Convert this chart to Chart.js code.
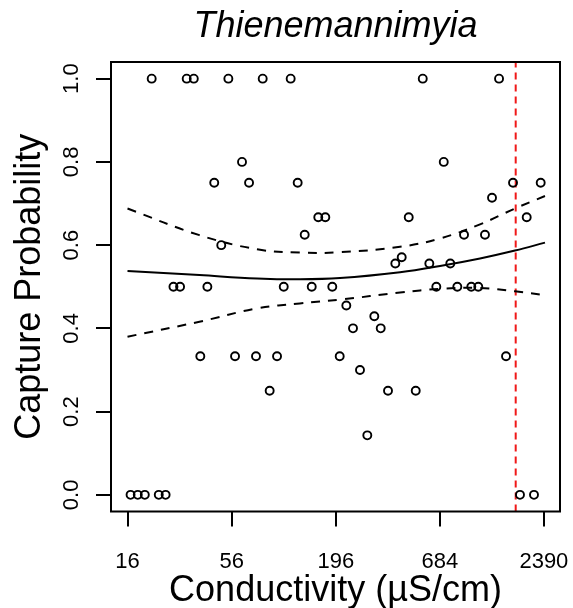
<!DOCTYPE html>
<html>
<head>
<meta charset="utf-8">
<script src="https://cdn.jsdelivr.net/npm/chart.js@4"></script>
<style>
html, body { margin: 0; padding: 0; background: #fff; }
#wrap { width: 573px; height: 608px; }
</style>
</head>
<body>
<div id="wrap"><canvas id="chart" width="573" height="608"></canvas></div>
<script>
// observed capture probabilities (one entry per site)
const conductivity = [
    21.4, 32.6, 35.5, 53.8, 81.3, 113.8, 557, 1394,
    63.4, 717,
    45.4, 69.0, 123.8, 1649, 2300,
    1281,
    158.6, 172.6, 470.6, 1944,
    134.7, 915, 1177,
    49.4,
    432.5,
    400.5, 602.8, 775.7,
    27.8, 30.1, 41.8, 104.7, 146.6, 187.7, 655.7, 844, 998.6, 1086,
    222.2,
    311.1,
    240.8, 336,
    38.4, 58.3, 75.0, 96.6, 205.2, 1516,
    261.9,
    88.4, 366.8, 511.9,
    286,
    16.6, 18.1, 19.7, 23.3, 25.3, 1793, 2122
];
const captureProb = [
    1, 1, 1, 1, 1, 1, 1, 1,
    0.8, 0.8,
    0.75, 0.75, 0.75, 0.75, 0.75,
    0.714,
    0.667, 0.667, 0.667, 0.667,
    0.625, 0.625, 0.625,
    0.6,
    0.571,
    0.556, 0.556, 0.556,
    0.5, 0.5, 0.5, 0.5, 0.5, 0.5, 0.5, 0.5, 0.5, 0.5,
    0.455,
    0.429,
    0.4, 0.4,
    0.333, 0.333, 0.333, 0.333, 0.333, 0.333,
    0.3,
    0.25, 0.25, 0.25,
    0.143,
    0, 0, 0, 0, 0, 0, 0
];

// fitted curve and its band at these conductivities
const fitX = [16, 38, 76, 127, 206, 424, 686, 1109, 1689, 2422];
const fitY = [0.538, 0.528, 0.520, 0.518, 0.521, 0.535, 0.550, 0.568, 0.587, 0.606];
const upperY = [0.688, 0.624, 0.590, 0.582, 0.583, 0.596, 0.616, 0.650, 0.688, 0.718];
const lowerY = [0.380, 0.416, 0.448, 0.460, 0.469, 0.486, 0.495, 0.497, 0.489, 0.480];

const thresholdX = 1703;

const xTicks = [16, 56, 196, 684, 2390];
const yTicks = [0, 0.2, 0.4, 0.6, 0.8, 1.0];

const fontFamily = '"Liberation Sans", Arial, Helvetica, sans-serif';

const boxPlugin = {
    id: 'box',
    afterDraw(chart) {
        const a = chart.chartArea;
        const ctx = chart.ctx;
        ctx.save();
        ctx.strokeStyle = '#000';
        ctx.lineWidth = 2;
        ctx.strokeRect(a.left, a.top, a.right - a.left, a.bottom - a.top);
        ctx.restore();
    }
};

function toPoints(xs, ys) {
    return xs.map((x, i) => ({ x: x, y: ys[i] }));
}

const ctx = document.getElementById('chart').getContext('2d');

const chart = new Chart(ctx, {
    type: 'scatter',
    data: {
        datasets: [
            {
                data: toPoints(conductivity, captureProb),
                showLine: false,
                pointStyle: 'circle',
                pointRadius: 4,
                pointBorderWidth: 1.9,
                borderColor: '#000',
                backgroundColor: 'rgba(0,0,0,0)'
            },
            {
                data: toPoints(fitX, fitY),
                showLine: true,
                borderColor: '#000',
                borderWidth: 2,
                pointRadius: 0,
                tension: 0.4
            },
            {
                data: toPoints(fitX, upperY),
                showLine: true,
                borderColor: '#000',
                borderWidth: 2,
                borderDash: [9, 8],
                pointRadius: 0,
                tension: 0.4
            },
            {
                data: toPoints(fitX, lowerY),
                showLine: true,
                borderColor: '#000',
                borderWidth: 2,
                borderDash: [9, 8],
                pointRadius: 0,
                tension: 0.4
            },
            {
                data: [{ x: thresholdX, y: -0.04 }, { x: thresholdX, y: 1.04 }],
                showLine: true,
                borderColor: '#f01818',
                borderWidth: 2,
                borderDash: [7, 5],
                pointRadius: 0
            }
        ]
    },
    options: {
        responsive: false,
        animation: false,
        devicePixelRatio: 1,
        layout: { padding: { left: 0, right: 13, top: 0, bottom: 0 } },
        plugins: {
            legend: { display: false },
            tooltip: { enabled: false },
            title: {
                display: true,
                text: 'Thienemannimyia',
                fullSize: false,
                color: '#000',
                font: { family: fontFamily, size: 36, style: 'italic', weight: 'normal', lineHeight: 1.2 },
                padding: { top: 5, bottom: 13.8 }
            }
        },
        scales: {
            x: {
                type: 'logarithmic',
                min: 13.12,
                max: 2901,
                afterBuildTicks: s => { s.ticks = xTicks.map(v => ({ value: v })); },
                afterFit: s => { s.height = 96.5; s.paddingLeft = 0; s.paddingRight = 0; },
                ticks: {
                    autoSkip: false,
                    maxRotation: 0,
                    padding: 22,
                    color: '#000',
                    font: { family: fontFamily, size: 22 },
                    callback: v => String(v)
                },
                grid: { drawOnChartArea: false, drawTicks: true, tickLength: 15, color: '#000', lineWidth: 2 },
                border: { display: false },
                title: {
                    display: true,
                    text: 'Conductivity (µS/cm)',
                    color: '#000',
                    font: { family: fontFamily, size: 36, lineHeight: 1.2 },
                    padding: { top: 0, bottom: -5 }
                }
            },
            y: {
                min: -0.04,
                max: 1.04,
                afterBuildTicks: s => { s.ticks = yTicks.map(v => ({ value: v })); },
                afterFit: s => { s.width = 111; s.paddingTop = 0; s.paddingBottom = 0; },
                ticks: {
                    minRotation: 90,
                    maxRotation: 90,
                    crossAlign: 'center',
                    padding: 9,
                    color: '#000',
                    font: { family: fontFamily, size: 22 },
                    callback: v => v.toFixed(1)
                },
                grid: { drawOnChartArea: false, drawTicks: true, tickLength: 15, color: '#000', lineWidth: 2 },
                border: { display: false },
                title: {
                    display: true,
                    text: 'Capture Probability',
                    color: '#000',
                    font: { family: fontFamily, size: 36, lineHeight: 1.2 },
                    padding: { top: 8, bottom: 0 }
                }
            }
        }
    },
    plugins: [boxPlugin]
});
</script>
</body>
</html>
